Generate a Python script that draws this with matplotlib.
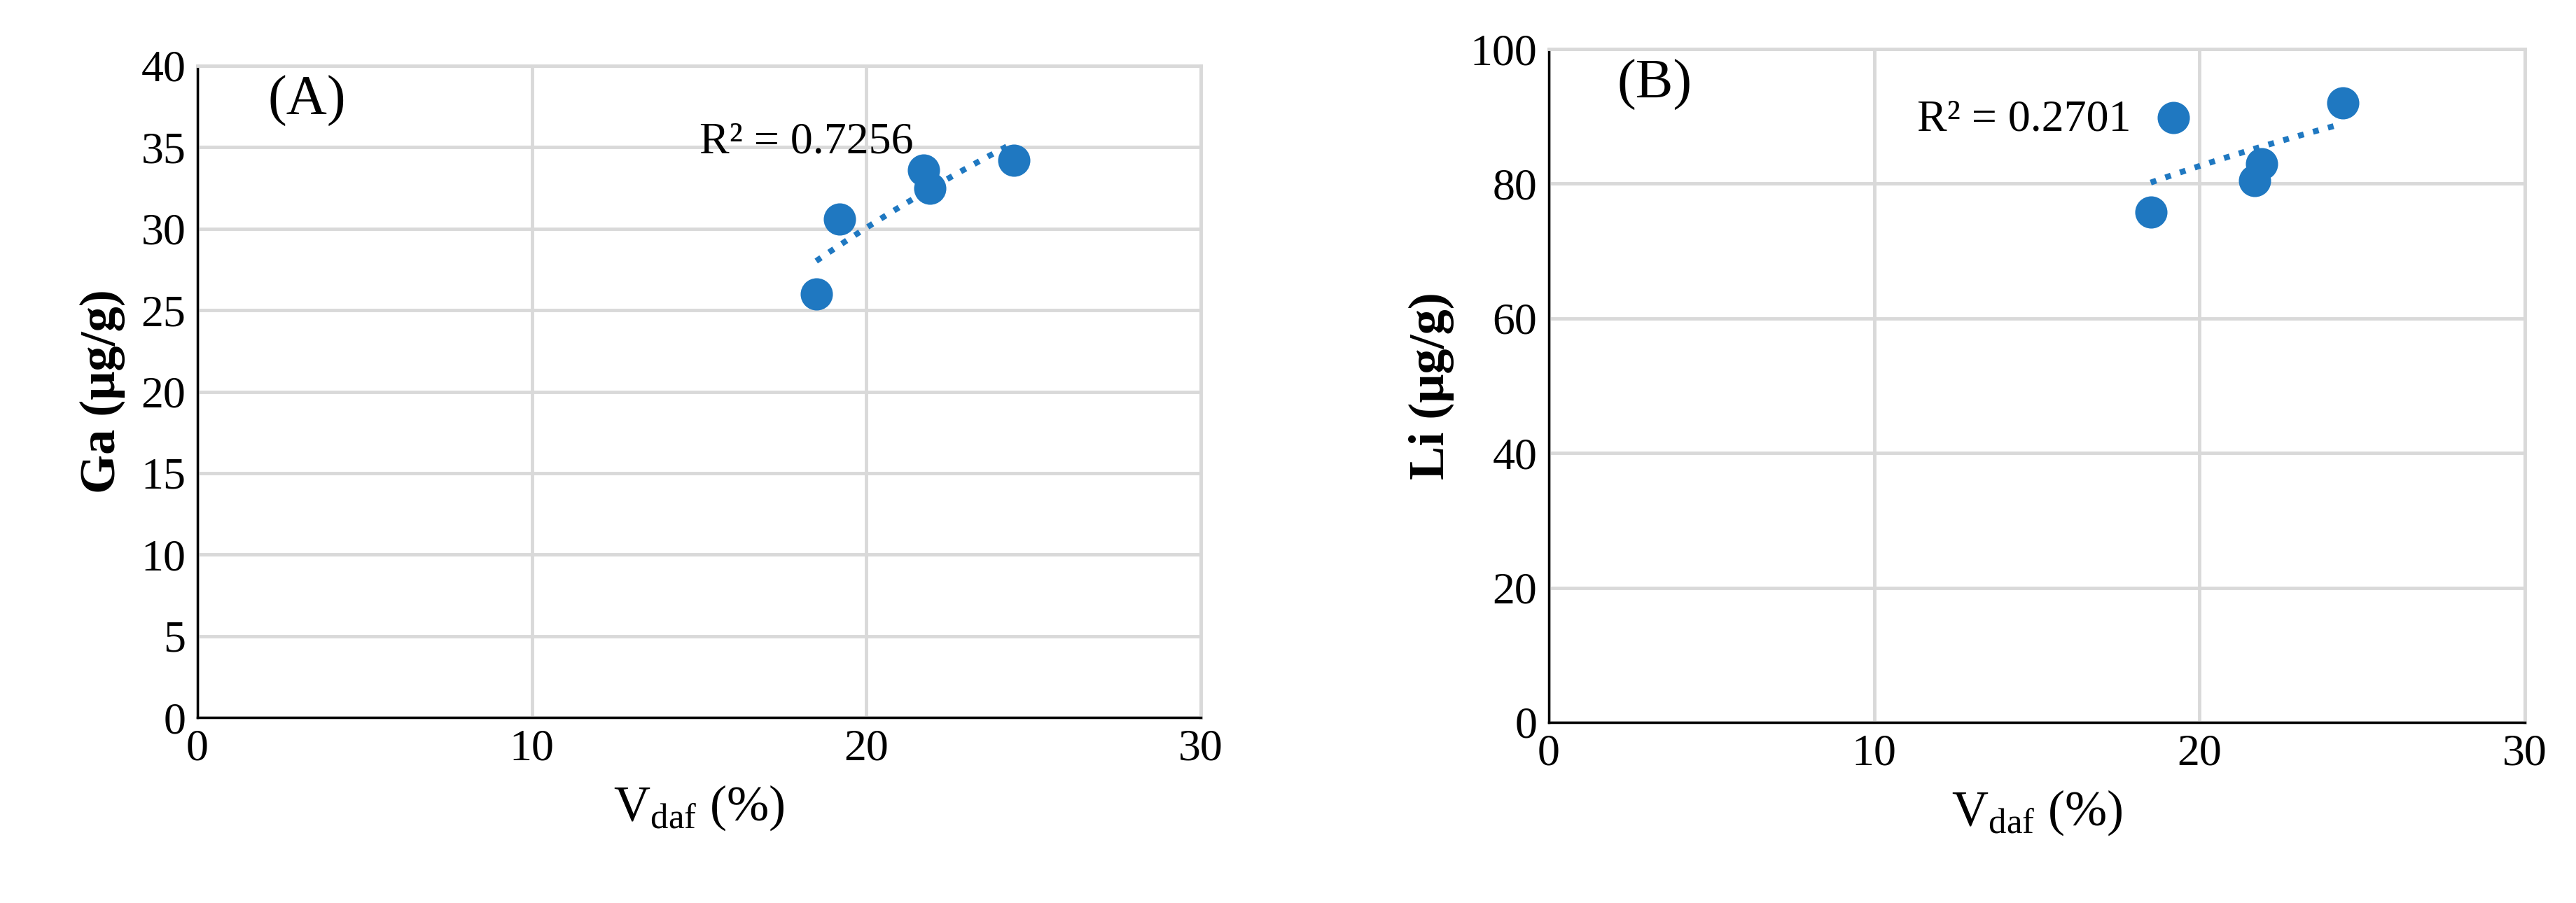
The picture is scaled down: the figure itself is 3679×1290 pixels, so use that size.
import matplotlib
matplotlib.use("Agg")
import matplotlib.pyplot as plt
import numpy as np

plt.rcParams.update({"font.family": ["Liberation Serif", "DejaVu Serif"],
                     "mathtext.fontset": "custom", "mathtext.rm": "Liberation Serif",
                     "font.size": 46})

vdaf = [18.5, 19.2, 21.7, 21.9, 24.4]
ga = [26.0, 30.6, 33.6, 32.5, 34.2]
li = [75.8, 89.8, 80.5, 83.0, 92.0]
BLUE = "#1f78c1"
GRID = "#d9d9d9"


def panel(ax, y, ylim, ystep, ylabel, tag, r2, r2xy):
    x = np.array(vdaf)
    ax.scatter(x, y, s=1100, color=BLUE, zorder=3, linewidths=0)
    # logarithmic trend line, as Excel draws it
    b, a = np.polyfit(np.log(x), y, 1)
    xs = np.linspace(x.min(), x.max(), 50)
    ax.plot(xs, a + b * np.log(xs), ":", color=BLUE, lw=6, zorder=2)
    ax.set_xlim(0, 30)
    ax.set_ylim(*ylim)
    ax.set_xticks(range(0, 31, 10))
    ax.set_yticks(np.arange(ylim[0], ylim[1] + 0.1, ystep))
    ax.grid(color=GRID, lw=3.5)
    ax.set_axisbelow(True)
    for s in ("top", "right"):
        ax.spines[s].set_color(GRID)
        ax.spines[s].set_linewidth(3.5)
    for s in ("left", "bottom"):
        ax.spines[s].set_color("black")
        ax.spines[s].set_linewidth(2.5)
    ax.tick_params(length=0, pad=12)
    ax.set_xlabel(r"V$_{\mathrm{daf}}$ (%)", fontsize=52, labelpad=14)
    ax.set_ylabel(ylabel, fontsize=52, fontweight="bold", labelpad=16)
    ax.text(0.07, 0.985, tag, transform=ax.transAxes, fontsize=58, va="top")
    ax.text(*r2xy, r2, fontsize=46, ha="right", va="center")


fig = plt.figure(figsize=(36.79, 12.9), dpi=100)
axA = fig.add_axes([282 / 3679, 1 - 1025 / 1290, (1715 - 282) / 3679, (1025 - 94) / 1290])
axB = fig.add_axes([2212 / 3679, 1 - 1032 / 1290, (3606 - 2212) / 3679, (1032 - 70) / 1290])
panel(axA, ga, (0, 40), 5, "Ga (μg/g)", "(A)", "R² = 0.7256", (21.4, 35.3))
panel(axB, li, (0, 100), 20, "Li (μg/g)", "(B)", "R² = 0.2701", (17.9, 89.5))
fig.savefig("out.png", dpi=100, facecolor="white")
